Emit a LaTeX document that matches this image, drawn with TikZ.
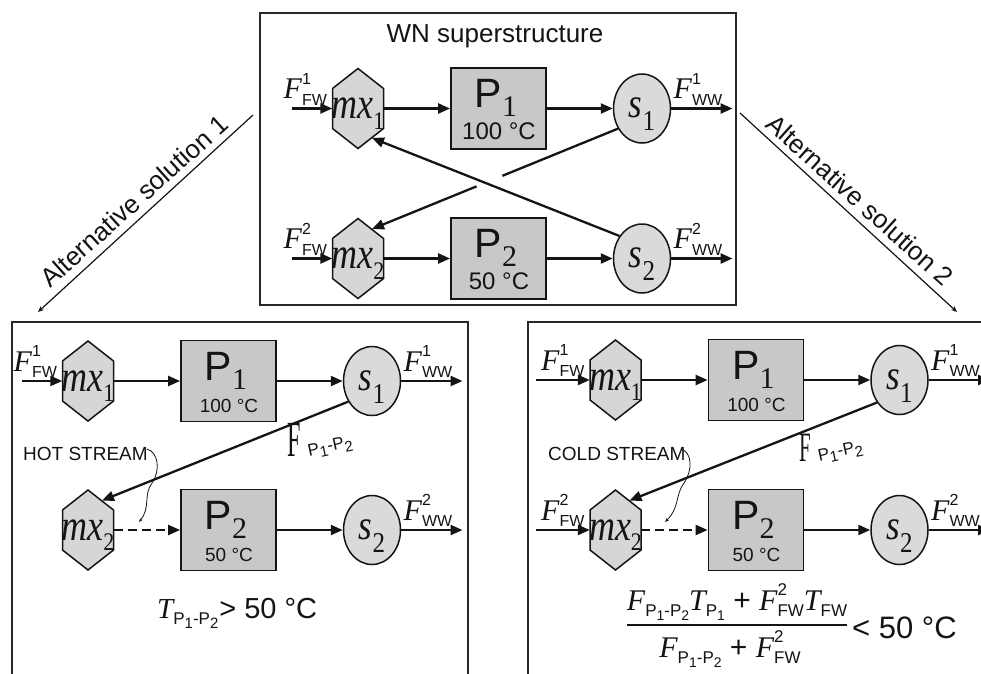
\documentclass[tikz,border=0pt]{standalone}
\usepackage{fontspec}
\usepackage{graphicx}
\setmainfont{Liberation Sans}
\newfontfamily\tms{Liberation Serif}
\usetikzlibrary{arrows.meta,calc,shapes.geometric}

\definecolor{boxfill}{RGB}{200,200,200}
\definecolor{hexfill}{RGB}{214,214,214}
\definecolor{circfill}{RGB}{218,218,218}
\definecolor{ink}{RGB}{20,20,20}
\definecolor{framec}{RGB}{40,40,40}

\newcommand\fsz[1]{\fontsize{#1}{#1}\selectfont}
\newcommand\VS[3]{{\tms\itshape #1}\raisebox{-0.22em}{\fsz{#3}#2}}
\newcommand\VSS[4]{{\tms\itshape #1}\rlap{\raisebox{0.48em}{\fsz{#4}#2}}\raisebox{-0.22em}{\fsz{#4}#3}}
\newcommand\ppsub[1]{P\raisebox{-0.25em}{\fsz{#1}1}-P\raisebox{-0.25em}{\fsz{#1}2}}
\newcommand\Flab[2]{\VSS{F}{#1}{#2}{16}}
\newcommand\Plab[1]{P\raisebox{-0.23em}{\tms\fsz{30}#1}}
\newcommand\slab[1]{\scalebox{1}[1.2]{\itshape s}\raisebox{-0.38em}{\scalebox{1}[1.15]{\fsz{25}#1}}}

\tikzset{
  flowplain/.style={draw=ink, line width=2.3pt},
  flow/.style={draw=ink, line width=2.3pt, -{Triangle[length=12pt,width=10pt]}},
  dflow/.style={flow, dash pattern=on 9pt off 5pt},
  thinarrow/.style={draw=ink, line width=1.2pt, -{Stealth[length=6pt,width=5pt]}},
  wavy/.style={draw=ink, line width=0.8pt, -{Stealth[length=4pt,width=3pt]}},
  pbox/.style={draw=ink, fill=boxfill, line width=1.8pt, minimum width=95pt, minimum height=81pt, inner sep=0pt},
  sbox/.style={ellipse, draw=ink, fill=circfill, line width=1.5pt, minimum width=57pt, minimum height=69pt, inner sep=0pt},
  hexsty/.style={draw=ink, fill=hexfill, line width=1.5pt},
  panelframe/.style={draw=framec, line width=1.6pt, inner sep=0pt},
  lbl/.style={inner sep=0pt, text=ink},
}

\newcommand\hexnode[4]{%
  \filldraw[hexsty] (#2,#3-40) -- (#2+25.5,#3-20) -- (#2+25.5,#3+20) -- (#2,#3+40) -- (#2-25.5,#3+20) -- (#2-25.5,#3-20) -- cycle;
  \node[inner sep=0pt, minimum width=51pt, minimum height=40pt] (#1) at (#2,#3) {};
  \node[lbl, anchor=base, font=\fsz{36}\tms] (#1lab) at (#2,#3+10) {\scalebox{1}[1.22]{\itshape mx}\raisebox{-0.3em}{\scalebox{1}[1.15]{\fsz{22}#4}}};
  \coordinate (#1-ur) at (#2+14,#3-29.5);
  \coordinate (#1-lr) at (#2+14,#3+29.5);
}

\newcommand\drawpanel[6]{%
  \hexnode{#1mx1}{#2}{#3}{1}
  \hexnode{#1mx2}{#2}{#4}{2}
  \node[pbox] (#1P1) at (#2+140.5,#3) {};
  \node[pbox] (#1P2) at (#2+140.5,#4) {};
  \node[lbl, anchor=base, font=\fsz{41}] (#1P1l) at (#2+138,#3-1) {\Plab{1}};
  \node[lbl, anchor=base, font=\fsz{41}] (#1P2l) at (#2+138,#4-1) {\Plab{2}};
  \node[lbl, anchor=base, font=\fsz{#5}] (#1P1t) at (#2+141,#3+31) {100 °C};
  \node[lbl, anchor=base, font=\fsz{#5}] (#1P2t) at (#2+141,#4+31) {50 °C};
  \node[sbox] (#1s1) at (#2+284,#3) {};
  \node[sbox] (#1s2) at (#2+284,#4) {};
  \node[lbl, anchor=base, font=\fsz{35}\tms] (#1s1l) at (#2+284,#3+9) {\slab{1}};
  \node[lbl, anchor=base, font=\fsz{35}\tms] (#1s2l) at (#2+284,#4+9) {\slab{2}};
  \coordinate (#1in1) at (#2-25.5-#6,#3);
  \coordinate (#1in2) at (#2-25.5-#6,#4);
  \coordinate (#1out1) at (#2+284+28.5+62,#3);
  \coordinate (#1out2) at (#2+284+28.5+62,#4);
  \draw[flow] (#1in1) -- (#1mx1);
  \draw[flow] (#1mx1) -- (#1P1);
  \draw[flow] (#1P1) -- (#1s1);
  \draw[flow] (#1P2) -- (#1s2);
  \draw[flow] (#1s1) -- (#1out1);
  \draw[flow] (#1s2) -- (#1out2);
  \node[lbl, anchor=base west, font=\fsz{30}] (#1Fin1) at (#2-25.5-49,#3-10) {\Flab{1}{FW}};
  \node[lbl, anchor=base west, font=\fsz{30}] (#1Fout1) at (#2+284+28.5+3,#3-10) {\Flab{1}{WW}};
  \node[lbl, anchor=base west, font=\fsz{30}] (#1Fout2) at (#2+284+28.5+3,#4-10) {\Flab{2}{WW}};
}

\begin{document}
\begin{tikzpicture}[x=1pt,y=-1pt]
\useasboundingbox (0,0) rectangle (981,673);
\fill[white] (0,0) rectangle (981,673);

% frames
\node[panelframe, minimum width=476pt, minimum height=292pt] (wn) at (498,159) {};
\node[panelframe, minimum width=456pt, minimum height=400pt] (alt1) at (240,522) {};
\node[panelframe, minimum width=480pt, minimum height=400pt] (alt2) at (768,522) {};

% ---------- top: superstructure
\node[lbl, font=\fsz{26}, anchor=base] (wntitle) at (495,42) {WN superstructure};
\drawpanel{t}{358}{108.5}{258.5}{24}{41}
\draw[flow] (tin2) -- (tmx2);
\draw[flow] (tmx2) -- (tP2);
\node[lbl, anchor=base west, font=\fsz{30}] (tFin2) at (358-25.5-49,258.5-10) {\Flab{2}{FW}};
\draw[flow] (ts2.135) -- (tmx1-lr);
\coordinate (tx1) at (ts1.220);
\draw[flowplain] (tx1) -- ($(tx1)!0.47!(tmx2-ur)$);
\draw[flow] ($(tx1)!0.575!(tmx2-ur)$) -- (tmx2-ur);

% ---------- bottom left: alternative 1
\drawpanel{l}{88}{381}{530}{19}{41}
\draw[dflow] (lmx2) -- (lP2);
\draw[flow] (ls1.221) -- (lmx2-ur);
\node[lbl, anchor=base west] (lFpp) at (287,456) {\scalebox{0.55}[1.15]{\tms\fsz{44}F}\kern6pt\rotatebox{12}{\fsz{17}\ppsub{15}}};
\node[lbl, anchor=base west, font=\fsz{19}] (hot) at (23,460) {HOT STREAM};
\coordinate (hotend) at (147,449);
\coordinate (hotpt) at (139,522);
\draw[wavy] (hotend) .. controls (158,452) and (161,470) .. (152,483) .. controls (143,495) and (151,507) .. (hotpt);
\node[lbl, anchor=base west, font=\fsz{29}] (tcond) at (157,618) {\VS{T}{\ppsub{15}}{17}\kern1pt> 50 °C};

% ---------- bottom right: alternative 2
\drawpanel{r}{615.5}{380}{530}{19}{54}
\draw[flow] (rin2) -- (rmx2);
\node[lbl, anchor=base west, font=\fsz{30}] (rFin2) at (615.5-25.5-49,530-10) {\Flab{2}{FW}};
\draw[dflow] (rmx2) -- (rP2);
\draw[flow] (rs1.225) -- (rmx2-ur);
\node[lbl, anchor=base west] (rFpp) at (799,461) {\scalebox{0.55}[1.1]{\tms\fsz{38}F}\kern6pt\rotatebox{12}{\fsz{17}\ppsub{15}}};
\node[lbl, anchor=base west, font=\fsz{19}] (cold) at (548,460) {COLD STREAM};
\coordinate (coldend) at (681,449);
\coordinate (coldpt) at (665,522);
\draw[wavy] (coldend) .. controls (692,452) and (693,470) .. (684,483) .. controls (675,495) and (680,507) .. (coldpt);
\node[lbl, anchor=base, font=\fsz{30}] (num) at (737,610) {\VS{F}{\ppsub{14}}{17}\VS{T}{P\raisebox{-0.25em}{\fsz{14}1}}{17} + \VSS{F}{2}{FW}{17}\VS{T}{FW}{17}};
\node[lbl, anchor=base, font=\fsz{30}] (den) at (730,657) {\VS{F}{\ppsub{14}}{17} + \VSS{F}{2}{FW}{17}};
\coordinate (barL) at (627,625);
\coordinate (barR) at (847,625);
\draw[ink, line width=1.5pt] (barL) -- (barR);
\node[lbl, anchor=base west, font=\fsz{31}] (lt50) at (852,638) {< 50 °C};

% ---------- alternative arrows
\coordinate (a1s) at (253,115);
\coordinate (a1e) at (38,312);
\draw[thinarrow] (a1s) -- (a1e);
\node[lbl, font=\fsz{26}, rotate=42] (a1lab) at (134,201) {Alternative solution 1};
\coordinate (a2s) at (740,113);
\coordinate (a2e) at (957,312);
\draw[thinarrow] (a2s) -- (a2e);
\node[lbl, font=\fsz{26}, rotate=-42] (a2lab) at (860,200) {Alternative solution 2};
\end{tikzpicture}
\end{document}
